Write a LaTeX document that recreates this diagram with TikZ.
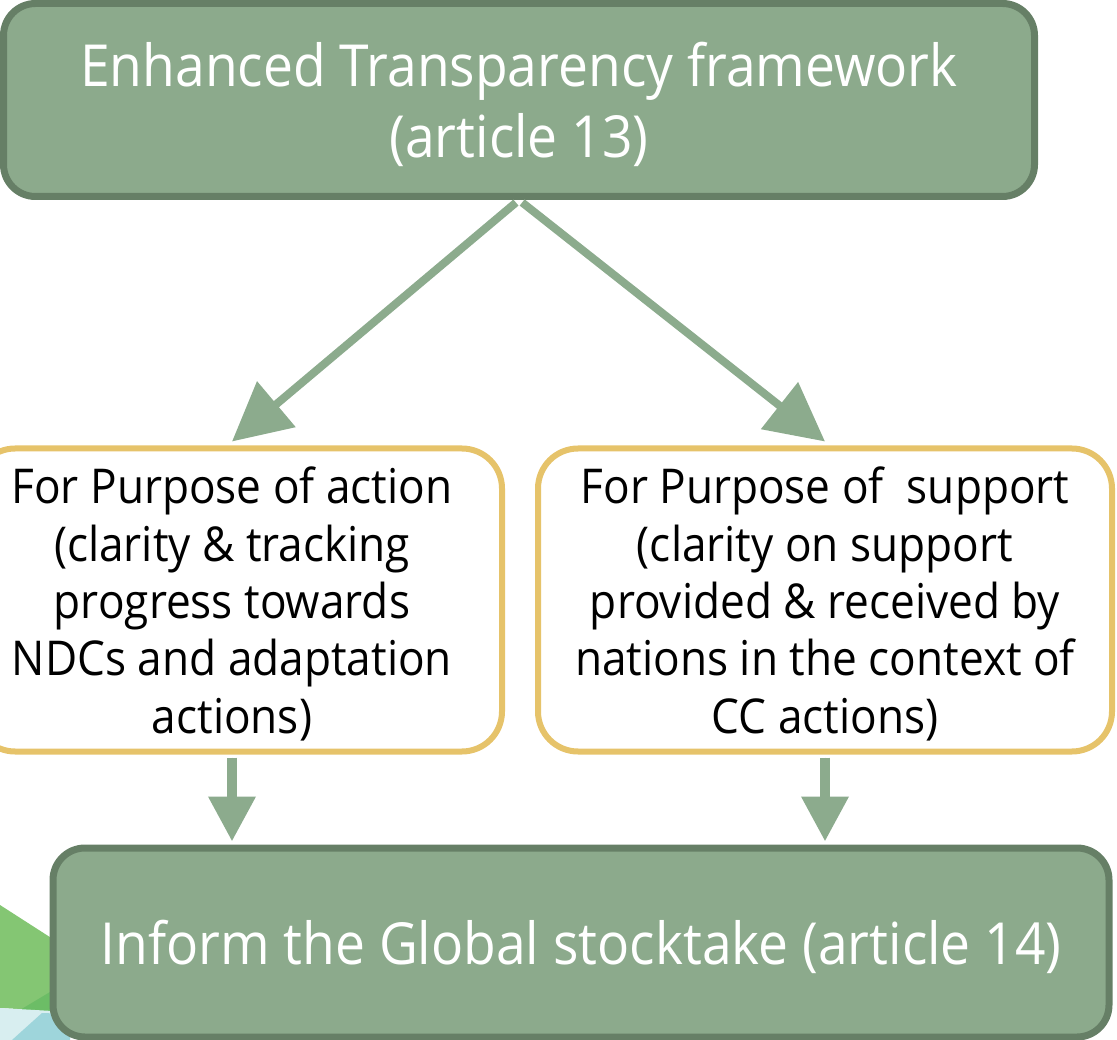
\documentclass[tikz,border=0pt]{standalone}
\usepackage{fontspec}
\setmainfont[FakeStretch=0.92]{Open Sans}
\usetikzlibrary{arrows.meta,calc}
\definecolor{boxgreen}{HTML}{8CAA8C}
\definecolor{boxedge}{HTML}{667F66}
\definecolor{arrowgreen}{HTML}{8CAB8D}
\definecolor{goldedge}{HTML}{E6C36A}
\definecolor{decogreen}{HTML}{84C673}
\definecolor{decodark}{HTML}{6CBD66}
\definecolor{decopale}{HTML}{D8EEF0}
\definecolor{decoblue}{HTML}{9ED5DB}
\tikzset{
  greenbox/.style={draw=boxedge, fill=boxgreen, line width=7pt, rounded corners=32pt, inner sep=0pt},
  whitebox/.style={draw=goldedge, fill=white, line width=6pt, rounded corners=40pt, inner sep=0pt},
  bigtext/.style={text=white, align=center, inner sep=0pt, font=\fontsize{58}{71}\selectfont},
  smalltext/.style={text=black, align=center, inner sep=0pt, font=\fontsize{48}{57.3}\selectfont},
  diagarrow/.style={draw=arrowgreen, line width=8pt,
    -{Triangle[length=58pt,width=58pt]}, shorten <=4pt},
  downarrow/.style={draw=arrowgreen, fill=arrowgreen, line width=10pt,
    -{Triangle[length=45pt,width=45pt]}}
}
\begin{document}
\begin{tikzpicture}[x=1pt,y=-1pt]
\useasboundingbox (0,0) rectangle (1117,1040);
% background decoration bottom-left
\fill[decogreen] (0,905) -- (70,950) -- (70,1012) -- (0,1008) -- cycle;
\fill[decodark] (20,1010) -- (70,980) -- (70,1016) -- cycle;
\fill[decopale] (0,1008) -- (70,1012) -- (70,1040) -- (0,1040) -- cycle;
\fill[decoblue] (12,1040) -- (42,1013) -- (70,1014) -- (70,1040) -- cycle;
% boxes
\node[greenbox, minimum width=1031pt, minimum height=193pt] (etf) at (519,100) {};
\node[whitebox, minimum width=527pt, minimum height=303pt] (act) at (238.5,600) {};
\node[whitebox, minimum width=574pt, minimum height=303pt] (sup) at (825,600) {};
\node[greenbox, minimum width=1056pt, minimum height=189pt] (gst) at (581,942.5) {};
% texts
\node[bigtext] (etftext) at ($(etf.center)+(0,4)$)
  {Enhanced Transparency framework\\(article 13)};
\node[smalltext] (acttext) at ($(act.center)+(-6.5,4)$)
  {For Purpose of action\\(clarity \& tracking\\progress towards\\NDCs and adaptation\\actions)};
\node[smalltext] (suptext) at ($(sup.center)+(0,4)$)
  {For Purpose of\ \ support\\(clarity on support\\provided \& received by\\nations in the context of\\CC actions)};
\node[bigtext] (gsttext) at ($(gst.center)+(0,4)$)
  {Inform the Global stocktake (article 14)};
% connectors
\draw[diagarrow] (etf.south) -- ($(act.north)+(-6.5,-4)$);
\draw[diagarrow] (etf.south) -- ($(sup.north)+(0,-4)$);
\draw[downarrow] ($(act.south)+(-6.5,3)$) -- ($(gst.north)+(-349,-3)$);
\draw[downarrow] ($(sup.south)+(0,3)$) -- ($(gst.north)+(244,-3)$);
\end{tikzpicture}
\end{document}
